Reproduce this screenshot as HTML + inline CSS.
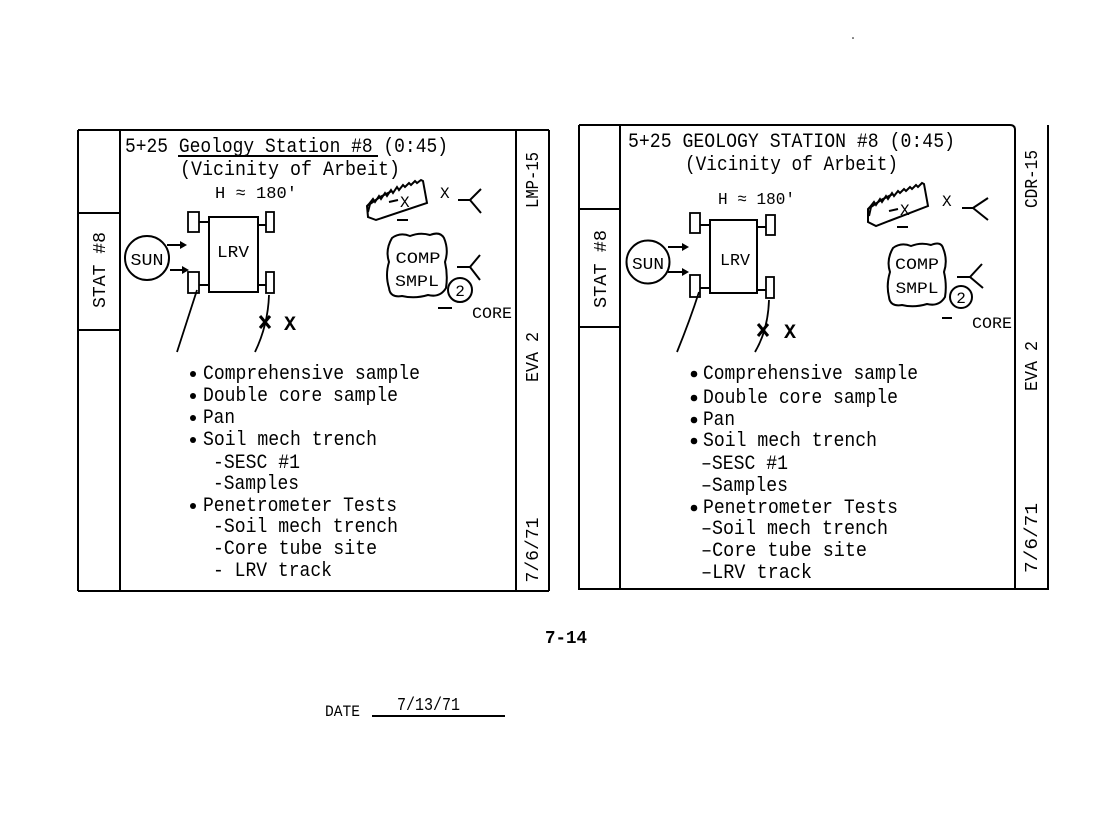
<!DOCTYPE html>
<html><head><meta charset="utf-8">
<style>
html,body{margin:0;padding:0;background:#fff;}
svg{display:block;}
.t{font-family:"Liberation Mono",monospace;fill:#000;stroke:none;}
.l{fill:none;stroke:#000;stroke-width:2;}
</style></head>
<body>
<svg width="1102" height="816" viewBox="0 0 1102 816" xmlns="http://www.w3.org/2000/svg">
<rect width="1102" height="816" fill="#fff"/>

<!-- ============ LEFT CARD ============ -->
<g class="l">
  <path d="M78,130 L549,130"/>
  <path d="M78,130 L78,591"/>
  <path d="M120,130 L120,591"/>
  <path d="M78,213 L120,213"/>
  <path d="M78,330 L120,330"/>
  <path d="M516,130 L516,591"/>
  <path d="M549,130 L549,591"/>
  <path d="M78,591 L549,591"/>
</g>
<text class="t" font-size="18" text-anchor="middle" transform="translate(105,270) rotate(-90)" textLength="76" lengthAdjust="spacingAndGlyphs">STAT #8</text>
<text class="t" font-size="18" text-anchor="middle" transform="translate(538,180) rotate(-90)" textLength="56" lengthAdjust="spacingAndGlyphs">LMP-15</text>
<text class="t" font-size="18" text-anchor="middle" transform="translate(538,357) rotate(-90)" textLength="50" lengthAdjust="spacingAndGlyphs">EVA 2</text>
<text class="t" font-size="18" text-anchor="middle" transform="translate(538,550) rotate(-90)" textLength="65" lengthAdjust="spacingAndGlyphs">7/6/71</text>

<text class="t" x="125" y="152" font-size="20" textLength="323" lengthAdjust="spacingAndGlyphs">5+25 Geology Station #8 (0:45)</text>
<path class="l" d="M178,156 L378,156" stroke-width="1.5"/>
<text class="t" x="180" y="175" font-size="20" textLength="220" lengthAdjust="spacingAndGlyphs">(Vicinity of Arbeit)</text>
<text class="t" x="215" y="198" font-size="17" textLength="82" lengthAdjust="spacingAndGlyphs">H ≈ 180'</text>

<!-- LRV -->
<g class="l">
  <rect x="209" y="217" width="49" height="75"/>
  <rect x="188" y="212" width="11" height="20" stroke-width="1.8"/>
  <rect x="266" y="212" width="8" height="20" stroke-width="1.8"/>
  <rect x="188" y="272" width="11" height="21" stroke-width="1.8"/>
  <rect x="266" y="272" width="8" height="21" stroke-width="1.8"/>
  <path d="M199,222 L209,222 M258,225 L266,225 M199,285 L209,285 M258,285 L266,285"/>
  <circle cx="147" cy="258" r="22"/>
  <path d="M167,245 L184,245 M170,270 L186,270"/>
  <path d="M197,290 Q188,318 177,352" stroke-width="1.8"/>
  <path d="M269,295 Q268,325 255,352" stroke-width="1.8"/>
  <path d="M260,316 L270,328 M270,316 L260,328" stroke-width="3"/>
</g>
<path d="M187,245 L180,241 L180,249 Z" fill="#000"/>
<path d="M189,270 L182,266 L182,274 Z" fill="#000"/>
<text class="t" x="233" y="257" font-size="17" text-anchor="middle" textLength="32" lengthAdjust="spacingAndGlyphs">LRV</text>
<text class="t" x="147" y="265" font-size="17" text-anchor="middle" textLength="33" lengthAdjust="spacingAndGlyphs">SUN</text>
<text class="t" x="284" y="330" font-size="20" font-weight="bold">X</text>

<!-- rock -->
<path class="l" d="M369,204 L373,199 L375,202 L379,196 L381,199 L385,193 L387,196 L391,190 L393,193 L397,187 L399,190 L403,185 L405,187 L409,183 L411,185 L415,181 L417,183 L421,180 L423,181 L427,203 L376,220 L368,217 L367,206 Z"/>
<path class="l" d="M368,212 L370,204 L380,197 L392,191" stroke-width="3.5"/>
<path class="l" d="M389,202 L398,200" stroke-width="3"/>
<text class="t" x="400" y="207" font-size="16">X</text>
<path class="l" d="M397,220 L408,220" stroke-width="3"/>
<text class="t" x="440" y="198" font-size="16">X</text>
<path class="l" d="M458,200 L470,200 L481,189 M470,200 L481,213"/>

<!-- comp smpl -->
<path class="l" d="M392,238 Q400,232 410,236 Q420,232 430,235 Q440,231 444,238 Q449,250 445,262 Q448,275 446,288 Q440,298 428,295 Q415,299 402,296 Q390,298 389,288 Q385,275 389,262 Q385,250 392,238 Z"/>
<text class="t" x="418" y="263" font-size="16" text-anchor="middle" textLength="45" lengthAdjust="spacingAndGlyphs">COMP</text>
<text class="t" x="417" y="286" font-size="16" text-anchor="middle" textLength="44" lengthAdjust="spacingAndGlyphs">SMPL</text>
<path class="l" d="M457,267 L470,267 L480,255 M470,267 L480,280"/>
<circle class="l" cx="460" cy="290" r="12"/>
<text class="t" x="460" y="296" font-size="16" text-anchor="middle">2</text>
<path class="l" d="M438,308 L452,308" stroke-width="3"/>
<text class="t" x="472" y="318" font-size="16" textLength="40" lengthAdjust="spacingAndGlyphs">CORE</text>

<!-- bullets left -->
<g fill="#000">
  <circle cx="193" cy="374" r="3"/>
  <circle cx="193" cy="396" r="3"/>
  <circle cx="193" cy="418" r="3"/>
  <circle cx="193" cy="440" r="3"/>
  <circle cx="193" cy="506" r="3"/>
</g>
<g class="t" font-size="20">
  <text x="203" y="379" textLength="217" lengthAdjust="spacingAndGlyphs">Comprehensive sample</text>
  <text x="203" y="401" textLength="195" lengthAdjust="spacingAndGlyphs">Double core sample</text>
  <text x="203" y="423" textLength="32" lengthAdjust="spacingAndGlyphs">Pan</text>
  <text x="203" y="445" textLength="174" lengthAdjust="spacingAndGlyphs">Soil mech trench</text>
  <text x="213" y="468" textLength="87" lengthAdjust="spacingAndGlyphs">-SESC #1</text>
  <text x="213" y="489" textLength="86" lengthAdjust="spacingAndGlyphs">-Samples</text>
  <text x="203" y="511" textLength="194" lengthAdjust="spacingAndGlyphs">Penetrometer Tests</text>
  <text x="213" y="532" textLength="185" lengthAdjust="spacingAndGlyphs">-Soil mech trench</text>
  <text x="213" y="554" textLength="164" lengthAdjust="spacingAndGlyphs">-Core tube site</text>
  <text x="213" y="576" textLength="119" lengthAdjust="spacingAndGlyphs">- LRV track</text>
</g>

<!-- ============ RIGHT CARD ============ -->
<g class="l">
  <path d="M579,125 L1010,125 Q1015,125 1015,130 L1015,588"/>
  <path d="M579,125 L579,590"/>
  <path d="M620,125 L620,590"/>
  <path d="M579,209 L620,209"/>
  <path d="M579,327 L620,327"/>
  <path d="M1048,125 L1048,590"/>
  <path d="M579,589 L1048,589"/>
</g>
<text class="t" font-size="18" text-anchor="middle" transform="translate(606,269) rotate(-90)" textLength="78" lengthAdjust="spacingAndGlyphs">STAT #8</text>
<text class="t" font-size="18" text-anchor="middle" transform="translate(1037,179) rotate(-90)" textLength="58" lengthAdjust="spacingAndGlyphs">CDR-15</text>
<text class="t" font-size="18" text-anchor="middle" transform="translate(1037,366) rotate(-90)" textLength="50" lengthAdjust="spacingAndGlyphs">EVA 2</text>
<text class="t" font-size="18" text-anchor="middle" transform="translate(1037,538) rotate(-90)" textLength="70" lengthAdjust="spacingAndGlyphs">7/6/71</text>

<text class="t" x="628" y="147" font-size="20" textLength="327" lengthAdjust="spacingAndGlyphs">5+25 GEOLOGY STATION #8 (0:45)</text>
<text class="t" x="685" y="170" font-size="20" textLength="213" lengthAdjust="spacingAndGlyphs">(Vicinity of Arbeit)</text>
<text class="t" x="718" y="204" font-size="17" textLength="77" lengthAdjust="spacingAndGlyphs">H ≈ 180'</text>

<g class="l">
  <rect x="710" y="220" width="47" height="73"/>
  <rect x="690" y="213" width="10" height="20" stroke-width="1.8"/>
  <rect x="766" y="215" width="9" height="20" stroke-width="1.8"/>
  <rect x="690" y="275" width="10" height="22" stroke-width="1.8"/>
  <rect x="766" y="277" width="8" height="21" stroke-width="1.8"/>
  <path d="M700,225 L710,225 M757,227 L766,227 M700,288 L710,288 M757,290 L766,290"/>
  <circle cx="648" cy="262" r="21.5"/>
  <path d="M668,247 L685,247 M668,272 L685,272"/>
  <path d="M699,292 Q690,320 677,352" stroke-width="1.8"/>
  <path d="M769,300 Q768,330 755,352" stroke-width="1.8"/>
  <path d="M758,324 L768,336 M768,324 L758,336" stroke-width="3"/>
</g>
<path d="M689,247 L682,243 L682,251 Z" fill="#000"/>
<path d="M689,272 L682,268 L682,276 Z" fill="#000"/>
<text class="t" x="735" y="265" font-size="17" text-anchor="middle" textLength="30" lengthAdjust="spacingAndGlyphs">LRV</text>
<text class="t" x="648" y="269" font-size="17" text-anchor="middle" textLength="32" lengthAdjust="spacingAndGlyphs">SUN</text>
<text class="t" x="784" y="338" font-size="20" font-weight="bold">X</text>

<path class="l" d="M870,207 L874,202 L876,205 L880,199 L882,202 L886,196 L888,199 L892,193 L894,196 L898,191 L900,193 L904,189 L906,191 L910,187 L912,189 L916,185 L918,187 L922,183 L924,184 L928,206 L876,226 L868,222 L868,209 Z"/>
<path class="l" d="M869,216 L871,207 L881,200 L893,194" stroke-width="3.5"/>
<path class="l" d="M889,211 L898,209" stroke-width="3"/>
<text class="t" x="900" y="215" font-size="16">X</text>
<path class="l" d="M897,227 L908,227" stroke-width="3"/>
<text class="t" x="942" y="206" font-size="16">X</text>
<path class="l" d="M962,208 L973,208 L988,198 M973,208 L988,220"/>

<path class="l" d="M893,248 Q901,242 911,246 Q921,242 931,245 Q941,241 943,248 Q948,260 944,272 Q947,285 945,297 Q939,307 927,304 Q914,308 902,305 Q890,307 889,297 Q886,285 890,272 Q886,260 893,248 Z"/>
<text class="t" x="917" y="269" font-size="16" text-anchor="middle" textLength="44" lengthAdjust="spacingAndGlyphs">COMP</text>
<text class="t" x="917" y="293" font-size="16" text-anchor="middle" textLength="43" lengthAdjust="spacingAndGlyphs">SMPL</text>
<path class="l" d="M957,277 L970,277 L982,264 M970,277 L983,288"/>
<circle class="l" cx="961" cy="297" r="11"/>
<text class="t" x="961" y="303" font-size="16" text-anchor="middle">2</text>
<path class="l" d="M942,318 L952,318" stroke-width="3"/>
<text class="t" x="972" y="328" font-size="16" textLength="40" lengthAdjust="spacingAndGlyphs">CORE</text>

<g fill="#000">
  <circle cx="694" cy="374" r="3.3"/>
  <circle cx="694" cy="398" r="3.3"/>
  <circle cx="694" cy="420" r="3.3"/>
  <circle cx="694" cy="441" r="3.3"/>
  <circle cx="694" cy="508" r="3.3"/>
</g>
<g class="t" font-size="20">
  <text x="703" y="379" textLength="215" lengthAdjust="spacingAndGlyphs">Comprehensive sample</text>
  <text x="703" y="403" textLength="195" lengthAdjust="spacingAndGlyphs">Double core sample</text>
  <text x="703" y="425" textLength="32" lengthAdjust="spacingAndGlyphs">Pan</text>
  <text x="703" y="446" textLength="174" lengthAdjust="spacingAndGlyphs">Soil mech trench</text>
  <text x="701" y="469" textLength="87" lengthAdjust="spacingAndGlyphs">–SESC #1</text>
  <text x="701" y="491" textLength="87" lengthAdjust="spacingAndGlyphs">–Samples</text>
  <text x="703" y="513" textLength="195" lengthAdjust="spacingAndGlyphs">Penetrometer Tests</text>
  <text x="701" y="534" textLength="187" lengthAdjust="spacingAndGlyphs">–Soil mech trench</text>
  <text x="701" y="556" textLength="166" lengthAdjust="spacingAndGlyphs">–Core tube site</text>
  <text x="701" y="578" textLength="111" lengthAdjust="spacingAndGlyphs">–LRV track</text>
</g>

<!-- footer -->
<text class="t" x="545" y="643" font-size="18" font-weight="bold" textLength="42" lengthAdjust="spacingAndGlyphs">7-14</text>
<text class="t" x="325" y="716" font-size="16" textLength="35" lengthAdjust="spacingAndGlyphs">DATE</text>
<text class="t" x="397" y="710" font-size="18" textLength="63" lengthAdjust="spacingAndGlyphs">7/13/71</text>
<path class="l" d="M372,716 L505,716" stroke-width="1.5"/>
<circle cx="853" cy="38" r="0.8" fill="#000"/>
</svg>
</body></html>
